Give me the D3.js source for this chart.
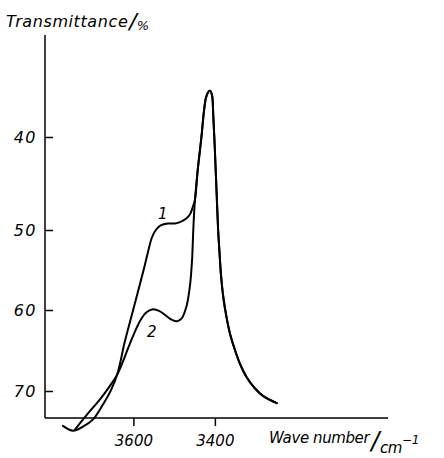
<!DOCTYPE html>
<html>
<head>
<meta charset="utf-8">
<script src="https://cdn.jsdelivr.net/npm/d3@7"></script>
<style>
  html, body { margin: 0; padding: 0; background: #fff; }
  svg { display: block; }
  text { font-family: "DejaVu Sans", sans-serif; font-style: italic; fill: #000; }
</style>
</head>
<body>
<svg id="chart" width="444" height="458"></svg>
<script>
// ---- data (wave number cm^-1, transmittance %) ----
const xTickValues = [3600, 3400];
const xTickLabels = ["3600", "3400"];
const yTickValues = [40, 50, 60, 70];
const yTickLabels = ["40", "50", "60", "70"];

const curve1Wave = [3773, 3748, 3724, 3699, 3675, 3655, 3640, 3631, 3623, 3607, 3589, 3572, 3563, 3555, 3545, 3533, 3515, 3498, 3483, 3471, 3461, 3454, 3449];
const curve1Trans = [74.3, 74.9, 74.4, 73.5, 71.7, 69.9, 68.0, 66.2, 64.3, 61.2, 57.75, 54.4, 52.5, 51.0, 50.0, 49.5, 49.3, 49.3, 49.1, 48.8, 48.3, 47.5, 46.8];

const curve2Wave = [3744, 3712, 3680, 3658, 3640, 3626, 3613, 3599, 3582, 3567, 3552, 3537, 3520, 3506, 3493, 3481, 3469, 3461, 3456, 3453, 3449];
const curve2Trans = [74.8, 72.8, 70.9, 69.4, 68.0, 66.4, 64.7, 63.0, 61.2, 60.25, 59.9, 60.1, 60.7, 61.2, 61.4, 61.0, 59.4, 56.9, 53.75, 50.0, 46.8];

// shared main band (both spectra coincide here)
const peakWave = [3442, 3433, 3427, 3422, 3417, 3412, 3407, 3404, 3400, 3396, 3392, 3389, 3385, 3379, 3371, 3362, 3351, 3338, 3322, 3303, 3282, 3248];
const peakTrans = [43.5, 40.0, 37.3, 35.8, 35.2, 35.0, 35.5, 37.6, 41.4, 45.7, 50.0, 52.5, 55.6, 58.5, 61.0, 63.1, 64.9, 66.7, 68.3, 69.6, 70.6, 71.5];

const curveLabels = ["1", "2"];
const labelPos = [{w: 3528, t: 48.8}, {w: 3555, t: 63.3}];

// ---- scales ----
const svg = d3.select("#chart");
const x = d3.scaleLinear().domain([3817, 2975]).range([45, 388]);
const y = d3.scaleLinear().domain([29, 40, 50, 60, 70, 73.33]).range([35, 137, 230, 310, 391, 418]);

// ---- axes ----
const yAxis = d3.axisLeft(y)
  .tickValues(yTickValues)
  .tickFormat((d, i) => yTickLabels[i])
  .tickSizeInner(-8).tickSizeOuter(0).tickPadding(8);
const gy = svg.append("g").attr("transform", "translate(45,0)").call(yAxis);
gy.select(".domain").remove();
gy.selectAll("line").attr("stroke", "#000").attr("stroke-width", 1.5);
gy.selectAll("text").attr("font-size", 16).attr("letter-spacing", 1.5)
  .style("font-family", '"DejaVu Sans", sans-serif').style("font-style", "italic");

const xAxis = d3.axisBottom(x)
  .tickValues(xTickValues)
  .tickFormat((d, i) => xTickLabels[i])
  .tickSizeInner(8).tickSizeOuter(0).tickPadding(9);
const gx = svg.append("g").attr("transform", "translate(0,418)").call(xAxis);
gx.select(".domain").remove();
gx.selectAll("line").attr("stroke", "#000").attr("stroke-width", 1.5);
gx.selectAll("text").attr("font-size", 15)
  .style("font-family", '"DejaVu Sans", sans-serif').style("font-style", "italic");

// axis lines
svg.append("line").attr("x1", x(3817)).attr("x2", x(3817)).attr("y1", y(29)).attr("y2", y(73.33))
  .attr("stroke", "#000").attr("stroke-width", 1.5);
svg.append("line").attr("x1", x(3817)).attr("x2", x(2975)).attr("y1", y(73.33)).attr("y2", y(73.33))
  .attr("stroke", "#000").attr("stroke-width", 1.5);

// ---- curves ----
const line = d3.line().x(d => x(d[0])).y(d => y(d[1])).curve(d3.curveCatmullRom.alpha(0.5));
const peak = peakWave.map((w, i) => [w, peakTrans[i]]);
const c1 = curve1Wave.map((w, i) => [w, curve1Trans[i]]).concat(peak);
const c2 = curve2Wave.map((w, i) => [w, curve2Trans[i]]).concat(peak);
[c1, c2].forEach(c => {
  svg.append("path").attr("d", line(c)).attr("fill", "none")
    .attr("stroke", "#000").attr("stroke-width", 2).attr("stroke-linejoin", "round").attr("stroke-linecap", "round");
});

curveLabels.forEach((t, i) => {
  svg.append("text").attr("x", x(labelPos[i].w)).attr("y", y(labelPos[i].t))
    .attr("text-anchor", "middle").attr("font-size", 15).text(t);
});

// ---- axis titles ----
const yt = svg.append("text").attr("x", 6).attr("y", 27).attr("font-size", 16).attr("letter-spacing", 0.6);
yt.append("tspan").text("Transmittance");
yt.append("tspan").attr("font-size", 22).attr("dx", 1).attr("dy", 2).attr("letter-spacing", 0).text("/");
yt.append("tspan").attr("font-size", 13).attr("dx", 0).attr("dy", 1).attr("letter-spacing", 0).text("%");

const xt = svg.append("text").attr("x", 269).attr("y", 443).attr("font-size", 15).attr("letter-spacing", -0.4);
xt.append("tspan").text("Wave number");
xt.append("tspan").attr("font-size", 24).attr("dx", 2).attr("dy", 6).text("/");
xt.append("tspan").attr("font-size", 15).attr("dx", 1).attr("dy", 4).text("cm");
xt.append("tspan").attr("font-size", 12).attr("dy", -9).text("−1");
</script>
</body>
</html>
